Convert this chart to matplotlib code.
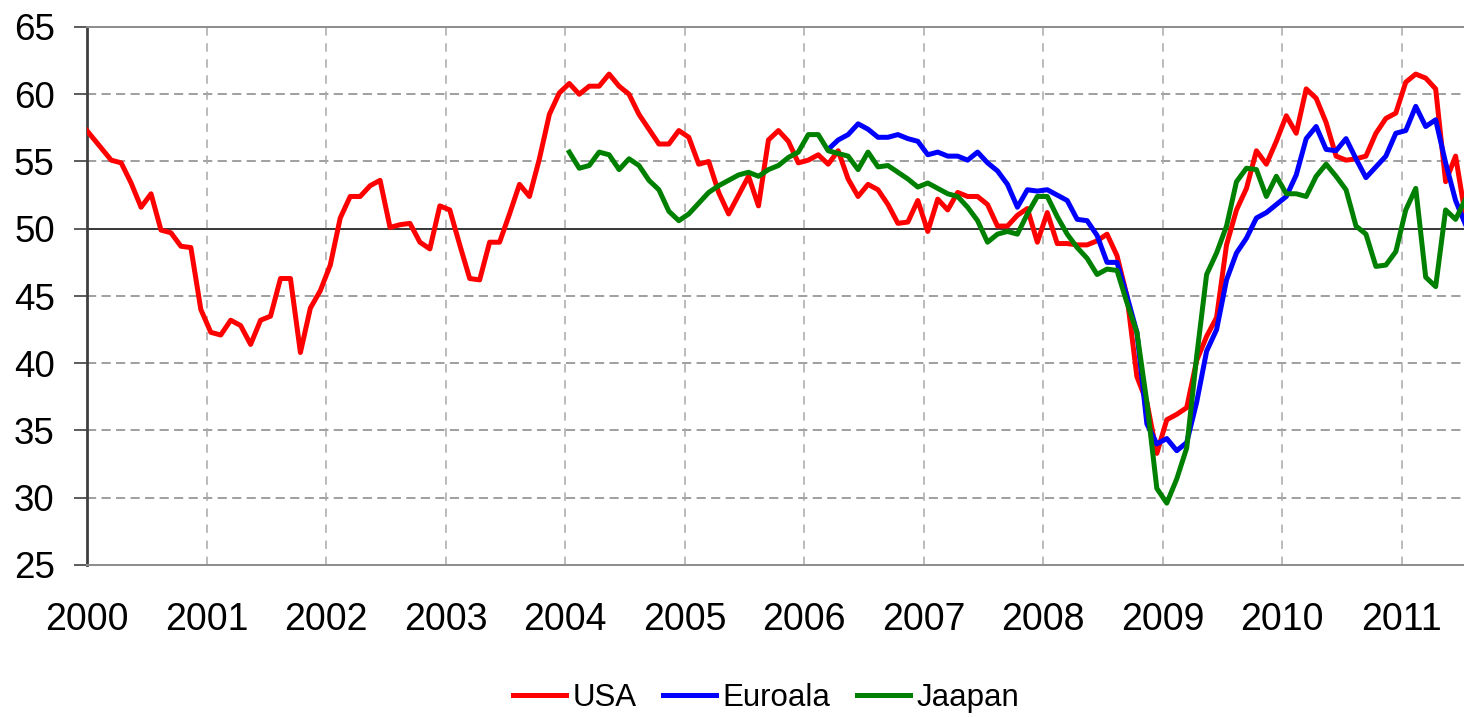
import numpy as np
import pandas as pd
import matplotlib
matplotlib.use('Agg')
import matplotlib.pyplot as plt

plt.rcParams['font.family'] = ['Liberation Sans', 'DejaVu Sans']

# Ostojohtajaindeksit, kuukausittain (USA alkaa 12/1999, Euroala 3/2006, Jaapan 1/2004)
usa = [57.8,
       56.9, 56.0, 55.1, 54.9, 53.4, 51.6, 52.6, 49.9, 49.7, 48.7, 48.6, 44.0,
       42.3, 42.1, 43.2, 42.8, 41.4, 43.2, 43.5, 46.3, 46.3, 40.8, 44.1, 45.4,
       47.3, 50.8, 52.4, 52.4, 53.2, 53.6, 50.1, 50.3, 50.4, 49.0, 48.5, 51.7,
       51.4, 48.8, 46.3, 46.2, 49.0, 49.0, 51.1, 53.3, 52.4, 55.2, 58.5, 60.1,
       60.8, 60.0, 60.6, 60.6, 61.5, 60.6, 60.0, 58.5, 57.4, 56.3, 56.3, 57.3,
       56.8, 54.8, 55.0, 52.7, 51.1, 52.5, 53.9, 51.7, 56.6, 57.3, 56.5, 54.9,
       55.1, 55.5, 54.8, 55.8, 53.7, 52.4, 53.3, 52.9, 51.8, 50.4, 50.5, 52.1,
       49.8, 52.2, 51.4, 52.7, 52.4, 52.4, 51.8, 50.2, 50.2, 51.0, 51.5, 49.0,
       51.2, 48.9, 48.9, 48.8, 48.8, 49.1, 49.6, 48.0, 45.0, 39.0, 37.1, 33.3,
       35.8, 36.2, 36.7, 40.2, 42.0, 43.4, 48.8, 51.4, 53.0, 55.8, 54.8, 56.5,
       58.4, 57.1, 60.4, 59.7, 57.9, 55.4, 55.1, 55.2, 55.4, 57.1, 58.2, 58.6,
       60.9, 61.5, 61.2, 60.4, 53.5, 55.4, 50.9]

euro = [55.9, 56.6, 57.0, 57.8, 57.4, 56.8, 56.8, 57.0, 56.7, 56.5,
        55.5, 55.7, 55.4, 55.4, 55.1, 55.7, 54.9, 54.3, 53.3, 51.6, 52.9, 52.8,
        52.9, 52.5, 52.1, 50.7, 50.6, 49.5, 47.5, 47.5, 45.0, 42.3, 35.5, 34.0,
        34.4, 33.5, 34.1, 37.1, 40.9, 42.5, 46.2, 48.2, 49.3, 50.8, 51.2, 51.8,
        52.4, 54.0, 56.7, 57.6, 55.9, 55.8, 56.7, 55.2, 53.8, 54.6, 55.4, 57.1,
        57.3, 59.1, 57.6, 58.1, 54.9, 52.1, 50.3]

japan = [55.7, 54.5, 54.7, 55.7, 55.5, 54.4, 55.2, 54.7, 53.6, 52.9, 51.3, 50.6,
         51.1, 51.9, 52.7, 53.2, 53.6, 54.0, 54.2, 53.9, 54.4, 54.7, 55.3, 55.7,
         57.0, 57.0, 55.8, 55.6, 55.4, 54.4, 55.7, 54.6, 54.7, 54.2, 53.7, 53.1,
         53.4, 53.0, 52.6, 52.4, 51.6, 50.6, 49.0, 49.6, 49.8, 49.6, 51.1, 52.4,
         52.4, 50.9, 49.6, 48.6, 47.8, 46.6, 47.0, 46.9, 44.5, 42.3, 37.1, 30.7,
         29.6, 31.4, 33.7, 40.5, 46.6, 48.2, 50.2, 53.5, 54.5, 54.4, 52.4, 53.9,
         52.6, 52.6, 52.4, 53.9, 54.8, 53.9, 52.9, 50.2, 49.6, 47.2, 47.3, 48.3,
         51.4, 53.0, 46.4, 45.7, 51.4, 50.7, 52.2]

years = list(range(2000, 2012))
y_ticks = [25, 30, 35, 40, 45, 50, 55, 60, 65]


def decimal_years(start, n):
    p = pd.period_range(start, periods=n, freq='M')
    return p.year + (p.month - 1 + 0.4) / 12


x_usa = decimal_years('1999-12', len(usa))
x_euro = decimal_years('2006-03', len(euro))
x_japan = decimal_years('2004-01', len(japan))

fig = plt.figure(figsize=(14.64, 7.17), dpi=100)
ax = fig.add_axes([87.3 / 1464, 1 - 565 / 717, (1464 - 87.3) / 1464, (565 - 27) / 717])

# ruudukko
for yv in y_ticks[1:-1]:
    if yv == 50:
        ax.axhline(yv, color='black', lw=1.1, zorder=1)
    else:
        ax.axhline(yv, color='#858585', lw=1.1, dashes=(6, 3.5), zorder=1)
for yr in years[1:]:
    ax.axvline(yr, color='#a8a8a8', lw=1.1, dashes=(5.5, 5), zorder=1)

ax.plot(x_usa, usa, color='#ff0000', lw=3.6, label='USA', zorder=3)
ax.plot(x_euro, euro, color='#0000ff', lw=3.6, label='Euroala', zorder=4)
ax.plot(x_japan, japan, color='#008000', lw=3.6, label='Jaapan', zorder=5)

ax.set_xlim(2000, 2000 + (1464 - 87.3) / 119.5)
ax.set_ylim(25, 65)
ax.set_xticks(years)
ax.set_xticklabels([str(y) for y in years])
ax.set_yticks(y_ticks)

ax.tick_params(axis='x', length=0, pad=27, labelsize=27)
ax.tick_params(axis='y', length=9.5, width=1.2, color='#404040', pad=14, labelsize=26.5)

for side in ['top', 'bottom']:
    ax.spines[side].set_color('#8c8c8c')
    ax.spines[side].set_linewidth(1.4)
ax.spines['right'].set_visible(False)
ax.spines['left'].set_color('#404040')
ax.spines['left'].set_linewidth(2)

fig.legend(loc='center', bbox_to_anchor=(766 / 1464, 1 - 698 / 717), ncol=3,
           frameon=False, fontsize=22.5, handlelength=1.7, handletextpad=0.2,
           columnspacing=0.85, borderaxespad=0)

plt.savefig('out.png', dpi=100, facecolor='white')
plt.close()
